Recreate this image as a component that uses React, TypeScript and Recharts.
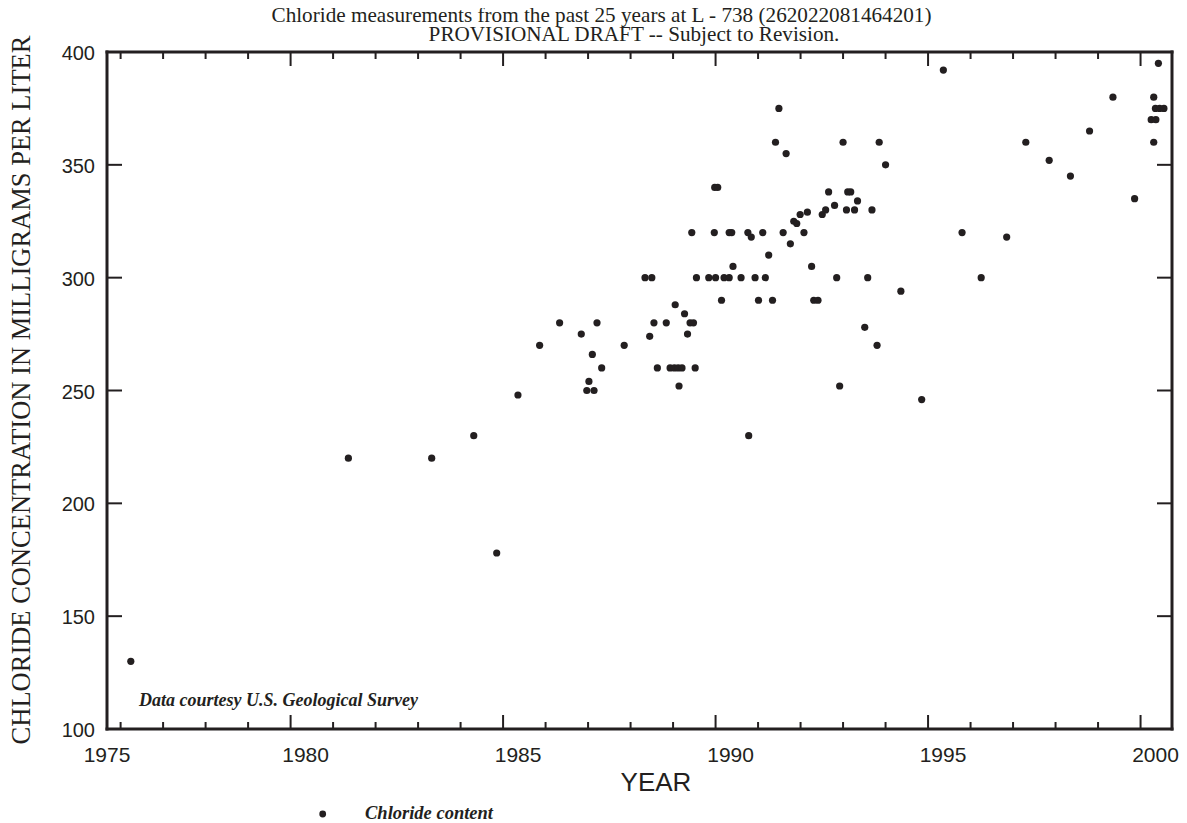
import React from 'react';
import { ScatterChart, Scatter, XAxis, YAxis } from 'recharts';

// ---- data ----
const years = [
  1976.24, 1981.36, 1983.32, 1984.31, 1984.85, 1985.35, 1985.86, 1986.33, 1986.84, 1986.97,
  1987.02, 1987.1, 1987.14, 1987.21, 1987.32, 1987.85, 1988.34, 1988.45, 1988.5, 1988.55,
  1988.63, 1988.84, 1988.93, 1989.03, 1989.05, 1989.12, 1989.14, 1989.21, 1989.27, 1989.34,
  1989.4, 1989.44, 1989.48, 1989.52, 1989.55, 1989.84, 1989.97, 1989.98, 1990.0, 1990.05,
  1990.14, 1990.2, 1990.32, 1990.32, 1990.38, 1990.41, 1990.6, 1990.76, 1990.78, 1990.84,
  1990.93, 1991.01, 1991.11, 1991.17, 1991.25, 1991.34, 1991.41, 1991.49, 1991.59, 1991.66,
  1991.76, 1991.84, 1991.91, 1991.99, 1992.08, 1992.16, 1992.26, 1992.31, 1992.41, 1992.51,
  1992.59, 1992.66, 1992.8, 1992.85, 1992.92, 1993.0, 1993.08, 1993.11, 1993.18, 1993.27,
  1993.34, 1993.51, 1993.58, 1993.68, 1993.8, 1993.85, 1994.0, 1994.36, 1994.85, 1995.36,
  1995.8, 1996.25, 1996.85, 1997.3, 1997.85, 1998.35, 1998.8, 1999.35, 1999.86, 2000.25,
  2000.31, 2000.31, 2000.35, 2000.36, 2000.42, 2000.45, 2000.55,
];
const chloride = [
  130, 220, 220, 230, 178, 248, 270, 280, 275, 250,
  254, 266, 250, 280, 260, 270, 300, 274, 300, 280,
  260, 280, 260, 260, 288, 260, 252, 260, 284, 275,
  280, 320, 280, 260, 300, 300, 320, 340, 300, 340,
  290, 300, 300, 320, 320, 305, 300, 320, 230, 318,
  300, 290, 320, 300, 310, 290, 360, 375, 320, 355,
  315, 325, 324, 328, 320, 329, 305, 290, 290, 328,
  330, 338, 332, 300, 252, 360, 330, 338, 338, 330,
  334, 278, 300, 330, 270, 360, 350, 294, 246, 392,
  320, 300, 318, 360, 352, 345, 365, 380, 335, 370,
  360, 380, 375, 370, 395, 375, 375,
];

const xStart = 1975.68;
const xEnd = 2000.74;
const xTicks = [
  1975.68, 1976, 1977, 1978, 1979, 1980, 1981, 1982, 1983, 1984, 1985, 1986, 1987,
  1988, 1989, 1990, 1991, 1992, 1993, 1994, 1995, 1996, 1997, 1998, 1999, 2000,
];
const xMajorYears = [1980, 1985, 1990, 1995, 2000];
const xStartLabel = '1975';
const yTicks = [100, 150, 200, 250, 300, 350, 400];

const titleLines = [
  'Chloride measurements from the past 25 years at L  - 738 (262022081464201)',
  'PROVISIONAL DRAFT -- Subject to Revision.',
];
const yAxisTitle = 'CHLORIDE CONCENTRATION IN MILLIGRAMS PER LITER';
const xAxisTitle = 'YEAR';
const legendLabel = 'Chloride content';
const courtesyText = 'Data courtesy U.S. Geological Survey';

const data = years.map((y, i) => ({ year: y, chloride: chloride[i] }));

const INK = '#231f20';
const SANS = '"Liberation Sans", Arial, Helvetica, sans-serif';
const SERIF = '"Liberation Serif", "Times New Roman", Times, serif';

const BottomTick = (props: any) => {
  const { x, y, payload } = props;
  const v = payload.value;
  if (v === xStart) {
    return (
      <text x={x} y={y + 33} textAnchor="middle" fontFamily={SANS} fontSize={21} fill={INK}>
        {xStartLabel}
      </text>
    );
  }
  const major = xMajorYears.includes(v);
  return (
    <g>
      <line x1={x} y1={y} x2={x} y2={y - (major ? 14 : 7)} stroke={INK} strokeWidth={2} />
      {major && (
        <text x={x + 15} y={y + 33} textAnchor="middle" fontFamily={SANS} fontSize={21} fill={INK}>
          {String(v)}
        </text>
      )}
    </g>
  );
};

const TopTick = (props: any) => {
  const { x, y, payload } = props;
  const v = payload.value;
  if (v === xStart) return <g />;
  const major = xMajorYears.includes(v);
  return <line x1={x} y1={y} x2={x} y2={y + (major ? 14 : 7)} stroke={INK} strokeWidth={2} />;
};

const LeftTick = (props: any) => {
  const { x, y, payload } = props;
  return (
    <g>
      <line x1={x} y1={y} x2={x + 15} y2={y} stroke={INK} strokeWidth={2} />
      <text x={x - 12} y={y + 8} textAnchor="end" fontFamily={SANS} fontSize={20} fill={INK}>
        {String(payload.value)}
      </text>
    </g>
  );
};

const RightTick = (props: any) => {
  const { x, y } = props;
  return <line x1={x} y1={y} x2={x - 15} y2={y} stroke={INK} strokeWidth={2} />;
};

const Dot = (p: any) => <circle cx={p.cx} cy={p.cy} r={3.6} fill={INK} />;

const frameLine = { stroke: INK, strokeWidth: 3, strokeLinecap: 'square' as const };

export default function App() {
  return (
    <div style={{ position: 'relative', width: 1171, height: 815 }}>
      <ScatterChart
        width={1171}
        height={815}
        margin={{ top: 43, right: 6, bottom: 93, left: 98 }}
      >
        <XAxis
          xAxisId="b"
          dataKey="year"
          type="number"
          domain={[xStart, xEnd]}
          ticks={xTicks}
          interval={0}
          allowDataOverflow
          orientation="bottom"
          height={1}
          tickSize={0}
          tickMargin={0}
          tickLine={false}
          axisLine={frameLine}
          tick={BottomTick}
        />
        <XAxis
          xAxisId="t"
          dataKey="year"
          type="number"
          domain={[xStart, xEnd]}
          ticks={xTicks}
          interval={0}
          allowDataOverflow
          orientation="top"
          height={1}
          tickSize={0}
          tickMargin={0}
          tickLine={false}
          axisLine={frameLine}
          tick={TopTick}
        />
        <YAxis
          yAxisId="l"
          dataKey="chloride"
          type="number"
          domain={[100, 400]}
          ticks={yTicks}
          interval={0}
          allowDataOverflow
          orientation="left"
          width={1}
          tickSize={0}
          tickMargin={0}
          tickLine={false}
          axisLine={frameLine}
          tick={LeftTick}
        />
        <YAxis
          yAxisId="r"
          dataKey="chloride"
          type="number"
          domain={[100, 400]}
          ticks={yTicks}
          interval={0}
          allowDataOverflow
          orientation="right"
          width={1}
          tickSize={0}
          tickMargin={0}
          tickLine={false}
          axisLine={frameLine}
          tick={RightTick}
        />
        <Scatter
          xAxisId="b"
          yAxisId="l"
          data={data}
          dataKey="chloride"
          fill={INK}
          shape={Dot}
          isAnimationActive={false}
        />
        <Scatter
          xAxisId="t"
          yAxisId="r"
          data={[]}
          dataKey="chloride"
          fill={INK}
          shape={Dot}
          isAnimationActive={false}
        />
      </ScatterChart>
      <svg
        width={1187}
        height={823}
        style={{ position: 'absolute', left: -8, top: -8, overflow: 'visible', pointerEvents: 'none' }}
      >
        <text x={601.5} y={22} textAnchor="middle" fontFamily={SERIF} fontSize={21.2} fill={INK}>
          {titleLines[0]}
        </text>
        <text x={634} y={41} textAnchor="middle" fontFamily={SERIF} fontSize={21.2} fill={INK}>
          {titleLines[1]}
        </text>
        <text
          x={30}
          y={390}
          textAnchor="middle"
          fontFamily={SERIF}
          fontSize={26.5}
          fill={INK}
          transform="rotate(-90, 30, 390)"
        >
          {yAxisTitle}
        </text>
        <text x={656} y={791} textAnchor="middle" fontFamily={SANS} fontSize={26} fill={INK}>
          {xAxisTitle}
        </text>
        <text
          x={139}
          y={706}
          fontFamily={SERIF}
          fontSize={18}
          fontWeight="bold"
          fontStyle="italic"
          fill={INK}
        >
          {courtesyText}
        </text>
        <circle cx={322.7} cy={814} r={3.4} fill={INK} />
        <text
          x={365}
          y={819}
          fontFamily={SERIF}
          fontSize={18.5}
          fontWeight="bold"
          fontStyle="italic"
          fill={INK}
        >
          {legendLabel}
        </text>
      </svg>
    </div>
  );
}
